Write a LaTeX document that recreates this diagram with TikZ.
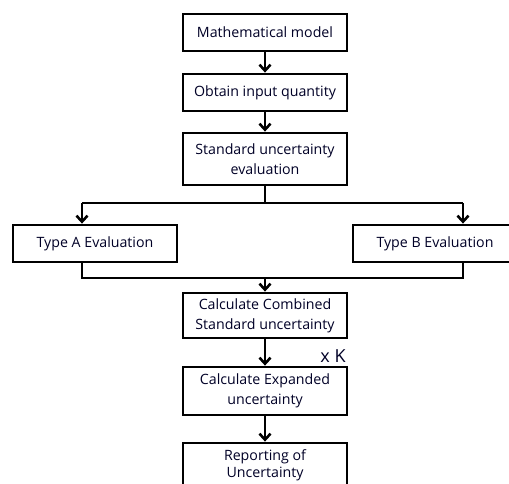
\documentclass[tikz,border=0pt]{standalone}
\usepackage{fontspec}
\setmainfont{Open Sans}
\usetikzlibrary{arrows.meta,positioning}
\begin{document}
\begin{tikzpicture}[x=1pt,y=1pt,
  box/.style={draw=black,line width=2.8pt,minimum width=164pt,inner sep=0pt,align=center,
    font=\fontsize{14.2}{20}\selectfont,text=black!85!blue},
  conn/.style={line width=2.8pt,-{Straight Barb[length=6pt,width=11pt,line width=2.6pt]}},
  ln/.style={line width=2.8pt}]
\useasboundingbox (0,0) rectangle (509,-483);
\node[box,minimum height=37pt] (m1) at (265,-32.5) {Mathematical model};
\node[box,minimum height=37pt] (m2) at (265,-92.5) {Obtain input quantity};
\node[box,minimum height=52pt] (m3) at (265,-159) {Standard uncertainty\\evaluation};
\node[box,minimum height=37pt] (a) at (95,-243.5) {Type A Evaluation};
\node[box,minimum height=37pt] (b) at (435,-243.5) {Type B Evaluation};
\node[box,minimum height=45pt] (c) at (265,-315.5) {Calculate Combined\\Standard uncertainty};
\node[box,minimum height=48pt] (e) at (265,-391) {Calculate Expanded\\uncertainty};
\node[box,minimum height=52pt,font=\fontsize{14.2}{17}\selectfont] (r) at (265,-469) {Reporting of\\Uncertainty\\[-6pt]\mbox{}};
\node[font=\fontsize{18}{20}\selectfont,anchor=center,text=black!85!blue] (k) at (333,-356) {x K};
\coordinate (s1) at (265,-203);
\coordinate (sa) at (82,-203);
\coordinate (sb) at (463,-203);
\coordinate (ja) at (82,-278);
\coordinate (jb) at (463,-278);
\coordinate (j) at (265,-278);
\draw[conn] (m1) -- (m2);
\draw[conn] (m2) -- (m3);
\draw[ln] (m3.south) -- (s1);
\draw[ln] (sa) -- (sb);
\draw[conn] (sa) -- (sa |- a.north);
\draw[conn] (sb) -- (sb |- b.north);
\draw[ln] (ja |- a.south) -- (ja) -- (jb) -- (jb |- b.south);
\draw[conn] (j) -- (c.north);
\draw[conn] (c) -- (e);
\draw[conn] (e) -- (r);
\end{tikzpicture}
\end{document}
